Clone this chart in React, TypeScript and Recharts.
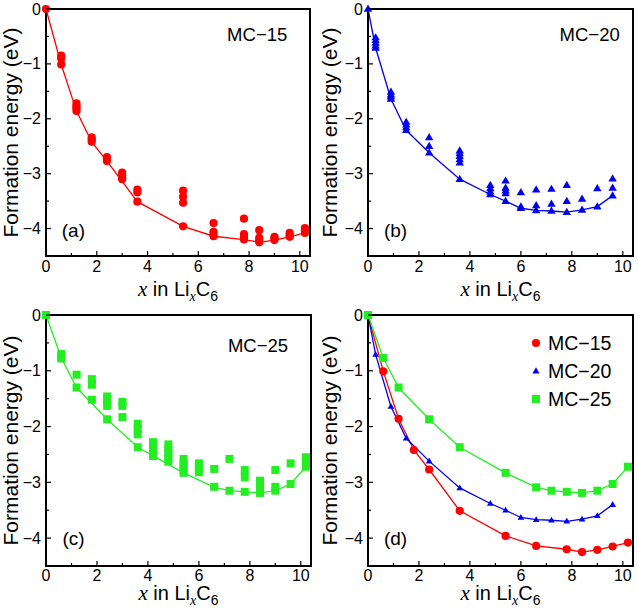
import React from 'react'
import { ComposedChart, Scatter, Line, XAxis, YAxis, ReferenceDot, Legend } from 'recharts'

const RED = '#ff0000'
const BLUE = '#0000ee'
const GREEN = '#22ee22'
const FONT = '"Liberation Sans", Arial, Helvetica, sans-serif'
const SERIF = '"Liberation Serif", "Times New Roman", serif'

const xTicks = [0, 1, 2, 3, 4, 5, 6, 7, 8, 9, 10]
const yTicks = [-4, -3.5, -3, -2.5, -2, -1.5, -1, -0.5, 0]
const xDomain = [0, 10.4]
const yDomain = [-4.5, 0]

// all sampled structures, per Li content x: list of formation energies
const mc15Samples: [number, number[]][] = [
  [0, [0]],
  [0.6, [-0.85, -0.9, -1.01]],
  [1.2, [-1.72, -1.77, -1.81, -1.86]],
  [1.8, [-2.34, -2.38, -2.42]],
  [2.4, [-2.7, -2.73, -2.77]],
  [3.0, [-2.98, -3.03, -3.07, -3.1]],
  [3.6, [-3.29, -3.34, -3.51]],
  [5.4, [-3.31, -3.42, -3.53, -3.96]],
  [6.6, [-3.9, -4.06, -4.1, -4.14]],
  [7.8, [-3.82, -4.1, -4.15, -4.2]],
  [8.4, [-4.03, -4.17, -4.21, -4.25]],
  [9.0, [-4.15, -4.18, -4.21]],
  [9.6, [-4.08, -4.12, -4.15]],
  [10.2, [-3.99, -4.03, -4.08]],
]

const mc20Samples: [number, number[]][] = [
  [0, [0]],
  [0.3, [-0.52, -0.57, -0.62, -0.67, -0.71]],
  [0.9, [-1.51, -1.56, -1.6, -1.64]],
  [1.5, [-2.06, -2.11, -2.16, -2.21]],
  [2.4, [-2.34, -2.5, -2.62]],
  [3.6, [-2.58, -2.63, -2.68, -2.74, -2.8, -3.1]],
  [4.8, [-3.21, -3.27, -3.33, -3.38]],
  [5.4, [-3.13, -3.26, -3.31, -3.36, -3.5]],
  [6.0, [-3.34, -3.6, -3.63]],
  [6.6, [-3.29, -3.58, -3.67]],
  [7.2, [-3.28, -3.55, -3.68]],
  [7.8, [-3.21, -3.5, -3.7]],
  [8.4, [-3.46, -3.66]],
  [9.0, [-3.27, -3.6]],
  [9.6, [-3.09, -3.26, -3.4]],
]

const mc25Samples: [number, number[]][] = [
  [0, [0]],
  [0.6, [-0.7, -0.74, -0.78]],
  [1.2, [-1.07, -1.3]],
  [1.8, [-1.15, -1.25, -1.52]],
  [2.4, [-1.46, -1.52, -1.58, -1.63, -1.87]],
  [3.0, [-1.56, -1.63, -1.83]],
  [3.6, [-1.95, -2.04, -2.14, -2.37]],
  [4.2, [-2.28, -2.35, -2.42, -2.48, -2.53]],
  [4.8, [-2.32, -2.4, -2.48, -2.56, -2.63]],
  [5.4, [-2.58, -2.65, -2.72, -2.78, -2.83]],
  [6.0, [-2.66, -2.74, -2.82]],
  [6.6, [-2.76, -3.08]],
  [7.2, [-2.58, -3.15]],
  [7.8, [-2.78, -2.91, -3.17]],
  [8.4, [-2.97, -3.07, -3.19]],
  [9.0, [-2.78, -3.08, -3.15]],
  [9.6, [-2.66, -3.03]],
  [10.2, [-2.55, -2.63, -2.72]],
]

// convex hulls (ground-state lines)
const mc15Hull: [number, number][] = [
  [0, 0], [0.6, -1.01], [1.2, -1.86], [1.8, -2.42], [2.4, -2.77], [3.6, -3.51], [5.4, -3.96],
  [6.6, -4.14], [7.8, -4.2], [8.4, -4.25], [9.0, -4.21], [9.6, -4.15], [10.2, -4.08],
]
const mc20Hull: [number, number][] = [
  [0, 0], [0.3, -0.71], [0.9, -1.64], [1.5, -2.21], [2.4, -2.62], [3.6, -3.1], [4.8, -3.38],
  [5.4, -3.5], [6.0, -3.63], [6.6, -3.67], [7.2, -3.68], [7.8, -3.7], [8.4, -3.66], [9.0, -3.6], [9.6, -3.4],
]
const mc25Hull: [number, number][] = [
  [0, 0], [0.6, -0.77], [1.2, -1.3], [2.4, -1.87], [3.6, -2.37], [5.4, -2.83], [6.6, -3.09],
  [7.2, -3.15], [7.8, -3.17], [8.4, -3.19], [9.0, -3.15], [9.6, -3.03], [10.2, -2.72],
]

const toPoints = (samples: [number, number[]][]) =>
  samples.flatMap(([x, ys]) => ys.map((y) => ({ x, y })))
const hullPoints = (hull: [number, number][]) => hull.map(([x, y]) => ({ x, y }))

function Marker({ kind, cx, cy, color, s = 1 }: any) {
  if (cx == null || cy == null) return null
  if (kind === 'circle') return <circle cx={cx} cy={cy} r={4.1 * s} fill={color} />
  if (kind === 'square') return <rect x={cx - 4 * s} y={cy - 4 * s} width={8 * s} height={8 * s} fill={color} />
  return (
    <polygon
      points={`${cx},${cy - 4.4 * s} ${cx - 4.2 * s},${cy + 2.8 * s} ${cx + 4.2 * s},${cy + 2.8 * s}`}
      fill={color}
    />
  )
}

const fmt = (v: number) => (v === 0 ? '0' : v < 0 ? '\u2212' + Math.abs(v) : String(v))

const makeBottomTick = (gap: number) => (p: any) => {
  const v = p.payload.value
  const major = v % 2 === 0
  return (
    <g>
      <line x1={p.x} x2={p.x} y1={p.y} y2={p.y - (major ? 5 : 3)} stroke="#000" strokeWidth={1.2} />
      {major && (
        <text x={p.x} y={p.y + gap} textAnchor="middle" fontSize={16} fontFamily={FONT} fill="#000">
          {v}
        </text>
      )}
    </g>
  )
}
const TopTick = (p: any) => {
  const major = p.payload.value % 2 === 0
  return <line x1={p.x} x2={p.x} y1={p.y} y2={p.y + (major ? 5 : 3)} stroke="#000" strokeWidth={1.2} />
}
const LeftTick = (p: any) => {
  const v = p.payload.value
  const major = Number.isInteger(v)
  return (
    <g>
      <line x1={p.x} x2={p.x + (major ? 5 : 3)} y1={p.y} y2={p.y} stroke="#000" strokeWidth={1.2} />
      {major && (
        <text x={p.x - 5} y={p.y + 5.5} textAnchor="end" fontSize={16} fontFamily={FONT} fill="#000">
          {fmt(v)}
        </text>
      )}
    </g>
  )
}
const RightTick = (p: any) => {
  const major = Number.isInteger(p.payload.value)
  return <line x1={p.x} x2={p.x - (major ? 5 : 3)} y1={p.y} y2={p.y} stroke="#000" strokeWidth={1.2} />
}

const frame = { stroke: '#000', strokeWidth: 2, strokeLinecap: 'square' as const }

const LegendBox = ({ payload }: any) => (
  <svg width={110} height={84} style={{ display: 'block' }}>
    {(payload || []).map((item: any, i: number) => (
      <g key={item.value}>
        <Marker kind={item.type} cx={12} cy={14 + i * 28} color={item.color} s={i === 1 ? 0.85 : 1} />
        <text x={24} y={14 + i * 28 + 7} fontSize={19.5} fontFamily={FONT} fill="#000">
          {item.value}
        </text>
      </g>
    ))}
  </svg>
)

type Series = { name: string; color: string; kind: string; samples?: [number, number[]][]; hull: [number, number][]; s?: number }

// plot box is given directly; axis sizes are subtracted from the margins here
function Panel({ series, tag, tagAt, label, labelAt, plot, titleDy, tickGap, legend }: any) {
  const W = 319
  const H = 305
  const bottomH = 30
  const margin = {
    top: plot.top - 2,
    right: W - plot.right - 2,
    bottom: H - plot.bottom - bottomH,
    left: 0,
  }
  return (
    <ComposedChart width={W} height={H} margin={margin}>
      <XAxis
        xAxisId="x" dataKey="x" type="number" domain={xDomain} ticks={xTicks} interval={0}
        height={bottomH} tickSize={0} tickMargin={0} tickLine={false} axisLine={frame} tick={makeBottomTick(tickGap)}
        label={(props: any) => {
          const vb = props.viewBox
          return (
            <text x={vb.x + vb.width / 2} y={vb.y + titleDy} textAnchor="middle" fontSize={20} fontFamily={FONT} fill="#000">
              <tspan fontFamily={SERIF} fontStyle="italic" fontSize={21}>x</tspan>
              <tspan> in Li</tspan>
              <tspan fontFamily={SERIF} fontStyle="italic" fontSize={14} dy={5}>x</tspan>
              <tspan dy={-5}>C</tspan>
              <tspan fontSize={14} dy={5}>6</tspan>
            </text>
          )
        }}
      />
      <XAxis
        xAxisId="xt" orientation="top" type="number" domain={xDomain} ticks={xTicks} interval={0}
        height={2} tickSize={0} tickMargin={0} tickLine={false} axisLine={frame} tick={TopTick}
      />
      <YAxis
        yAxisId="y" dataKey="y" type="number" domain={yDomain} ticks={yTicks} interval={0}
        width={plot.left} tickSize={0} tickMargin={0} tickLine={false} axisLine={frame} tick={LeftTick}
        label={(props: any) => {
          const vb = props.viewBox
          const cx = vb.x + 18
          const cy = vb.y + vb.height / 2
          return (
            <text x={cx} y={cy} transform={`rotate(-90 ${cx} ${cy})`} textAnchor="middle" fontSize={21} fontFamily={FONT} fill="#000">
              Formation energy (eV)
            </text>
          )
        }}
      />
      <YAxis
        yAxisId="yr" orientation="right" type="number" domain={yDomain} ticks={yTicks} interval={0}
        width={2} tickSize={0} tickMargin={0} tickLine={false} axisLine={frame} tick={RightTick}
      />
      {series.map((sr: Series) => (
        <Line
          key={sr.name + '-hull'}
          xAxisId="x" yAxisId="y" data={hullPoints(sr.hull)} dataKey="y" name={sr.name}
          type="linear" stroke={sr.color} strokeWidth={1.3} isAnimationActive={false}
          legendType={sr.kind as any} activeDot={false}
          dot={sr.samples ? false : (p: any) => <Marker key={`${sr.name}-${p.index}`} kind={sr.kind} cx={p.cx} cy={p.cy} color={sr.color} s={sr.s} />}
        />
      ))}
      {series.filter((sr: Series) => sr.samples).map((sr: Series) => (
        <Scatter
          key={sr.name + '-pts'}
          xAxisId="x" yAxisId="y" data={toPoints(sr.samples!)} dataKey="y" name={sr.name}
          isAnimationActive={false} legendType="none"
          shape={(p: any) => <Marker kind={sr.kind} cx={p.cx} cy={p.cy} color={sr.color} s={sr.s} />}
        />
      ))}
      {label && (
        <ReferenceDot
          xAxisId="x" yAxisId="y" x={labelAt[0]} y={labelAt[1]} r={0.1} fill="none" stroke="none"
          label={{ value: label, position: 'center', fontSize: 18.5, fill: '#000', fontFamily: FONT }}
        />
      )}
      <ReferenceDot
        xAxisId="x" yAxisId="y" x={tagAt[0]} y={tagAt[1]} r={0.1} fill="none" stroke="none"
        label={{ value: tag, position: 'center', fontSize: 19, fill: '#000', fontFamily: FONT }}
      />
      {legend && (
        <Legend
          layout="vertical" align="center" verticalAlign="middle" content={LegendBox}
          wrapperStyle={{ position: 'absolute', left: 205, top: 24, width: 110, height: 84 }}
        />
      )}
    </ComposedChart>
  )
}

export default function App() {
  return (
    <div style={{ position: 'absolute', left: 0, top: 0, width: 638, height: 610, background: '#fff' }}>
      <div style={{ position: 'absolute', left: 0, top: 0 }}>
        <Panel
          series={[{ name: 'MC\u221215', color: RED, kind: 'circle', samples: mc15Samples, hull: mc15Hull }]}
          label={'MC\u221215'} labelAt={[8.32, -0.47]} tag="(a)" tagAt={[1.08, -4.03]}
          plot={{ left: 46, right: 310, top: 9, bottom: 256 }} titleDy={40} tickGap={16}
        />
      </div>
      <div style={{ position: 'absolute', left: 319, top: 0 }}>
        <Panel
          series={[{ name: 'MC\u221220', color: BLUE, kind: 'triangle', samples: mc20Samples, hull: mc20Hull }]}
          label={'MC\u221220'} labelAt={[8.7, -0.47]} tag="(b)" tagAt={[1.08, -4.03]}
          plot={{ left: 49, right: 314, top: 9, bottom: 256 }} titleDy={40} tickGap={16}
        />
      </div>
      <div style={{ position: 'absolute', left: 0, top: 305 }}>
        <Panel
          series={[{ name: 'MC\u221225', color: GREEN, kind: 'square', samples: mc25Samples, hull: mc25Hull }]}
          label={'MC\u221225'} labelAt={[8.32, -0.54]} tag="(c)" tagAt={[1.08, -4.0]}
          plot={{ left: 46, right: 311, top: 10, bottom: 261 }} titleDy={34} tickGap={15}
        />
      </div>
      <div style={{ position: 'absolute', left: 319, top: 305 }}>
        <Panel
          series={[
            { name: 'MC\u221215', color: RED, kind: 'circle', hull: mc15Hull },
            { name: 'MC\u221220', color: BLUE, kind: 'triangle', hull: mc20Hull, s: 0.8 },
            { name: 'MC\u221225', color: GREEN, kind: 'square', hull: mc25Hull },
          ]}
          tag="(d)" tagAt={[1.08, -4.0]} legend
          plot={{ left: 49, right: 314, top: 10, bottom: 261 }} titleDy={34} tickGap={15}
        />
      </div>
    </div>
  )
}
